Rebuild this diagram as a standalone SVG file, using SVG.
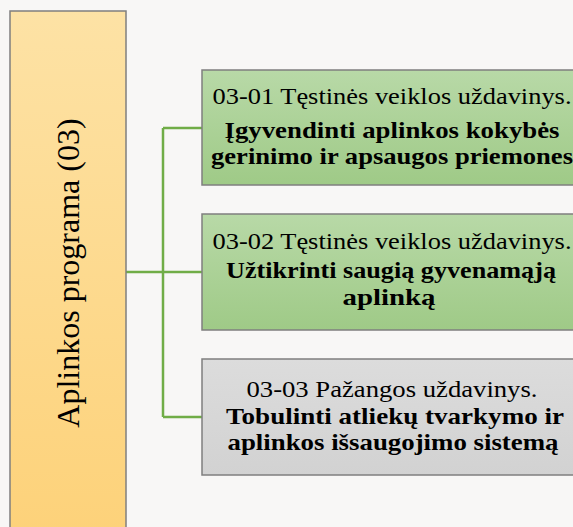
<svg xmlns="http://www.w3.org/2000/svg" width="573" height="527" viewBox="0 0 573 527">
<defs>
<linearGradient id="gy" x1="0" y1="0" x2="0" y2="1"><stop offset="0" stop-color="#fde2a5"/><stop offset="1" stop-color="#fdd27a"/></linearGradient>
<linearGradient id="gg" x1="0" y1="0" x2="0" y2="1"><stop offset="0" stop-color="#b8d9a7"/><stop offset="1" stop-color="#9fca87"/></linearGradient>
<linearGradient id="gr" x1="0" y1="0" x2="0" y2="1"><stop offset="0" stop-color="#dcdcdc"/><stop offset="1" stop-color="#d2d2d2"/></linearGradient>
</defs>
<style>
text{font-family:"Liberation Serif","Times New Roman",serif;fill:#000;text-anchor:middle}
.t{font-size:24px}
.b{font-size:24px;font-weight:bold}
.box{stroke:#7f7f7f;stroke-width:1.5}
.con{stroke:#70ad47;stroke-width:2.5;fill:none}
</style>
<rect width="573" height="527" fill="#f8f7f6"/>
<g id="connectors">
<path class="con" d="M126 272H163M163 128V417M163 128H202M163 272H202M163 417H202"/>
</g>
<g id="program">
<rect class="box" x="10" y="11" width="116" height="520" fill="url(#gy)" stroke="#8c8c8c"/>
<text transform="translate(79 273) rotate(-90)" style="font-size:32px">Aplinkos programa (03)</text>
</g>
<g id="task1">
<rect class="box" x="202" y="70" width="380" height="115" fill="url(#gg)"/>
<text class="t" x="392" y="104" textLength="359" lengthAdjust="spacingAndGlyphs">03-01 Tęstinės veiklos uždavinys.</text>
<text class="b" x="392" y="138" textLength="335" lengthAdjust="spacingAndGlyphs">Įgyvendinti aplinkos kokybės</text>
<text class="b" x="392" y="164" textLength="362" lengthAdjust="spacingAndGlyphs">gerinimo ir apsaugos priemones</text>
</g>
<g id="task2">
<rect class="box" x="202" y="214" width="380" height="116" fill="url(#gg)"/>
<text class="t" x="392" y="249" textLength="359" lengthAdjust="spacingAndGlyphs">03-02 Tęstinės veiklos uždavinys.</text>
<text class="b" x="391" y="278" textLength="330" lengthAdjust="spacingAndGlyphs">Užtikrinti saugią gyvenamąją</text>
<text class="b" x="389" y="305" textLength="93" lengthAdjust="spacingAndGlyphs">aplinką</text>
</g>
<g id="task3">
<rect class="box" x="202" y="359" width="380" height="116" fill="url(#gr)"/>
<text class="t" x="392" y="397" textLength="291" lengthAdjust="spacingAndGlyphs">03-03 Pažangos uždavinys.</text>
<text class="b" x="395" y="424" textLength="338" lengthAdjust="spacingAndGlyphs">Tobulinti atliekų tvarkymo ir</text>
<text class="b" x="393" y="450" textLength="331" lengthAdjust="spacingAndGlyphs">aplinkos išsaugojimo sistemą</text>
</g>
</svg>
